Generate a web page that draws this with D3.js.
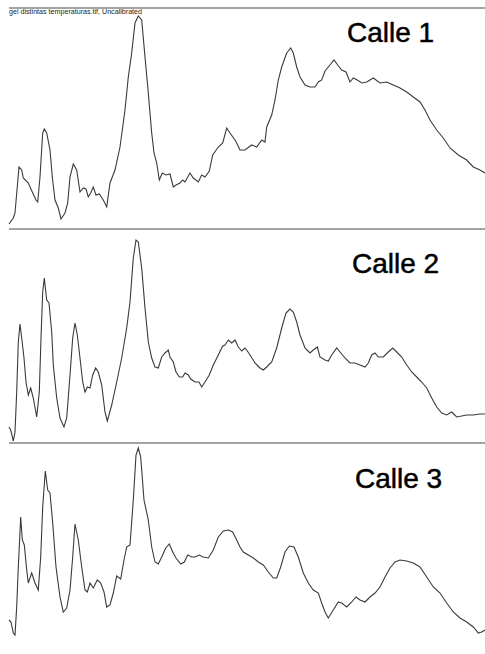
<!DOCTYPE html>
<html>
<head>
<meta charset="utf-8">
<script src="https://d3js.org/d3.v7.min.js"></script>
<style>
    body { margin: 0; background: #fff; }
    .sep { stroke: #858585; stroke-width: 1.5; }
    .trace { fill: none; stroke: #3a3a3a; stroke-width: 1.1; }
    .lane { font-family: Arial, "Liberation Sans", sans-serif; font-size: 28px; fill: #000; stroke: #000; stroke-width: 0.5; }
    .hdr { font-family: Arial, "Liberation Sans", sans-serif; font-size: 7px; fill: #222; }
</style>
</head>
<body>
<svg id="chart" width="485" height="654"></svg>
<script>
// lane labels and header
const laneNames = ["Calle 1", "Calle 2", "Calle 3"];
const header = "gel distintas temperaturas.tif, Uncalibrated";

// profile position (px along the lane) and intensity (uncalibrated)
const lane1Pos = [9,13.3,15,19,21.7,23.3,28.3,32.3,36,37.7,40,42.7,44.3,46.7,50,52.3,55,58.3,61,65,67.7,70,73.3,76.7,80,83.3,86,88.3,90.7,93.3,96,99.3,103.3,106.7,110,115,120,125,128.3,131.7,135,138.3,141.7,145,148.3,151.7,154,156.7,159.3,162.3,165.7,170,173.3,176,180,182.7,185,190,193.3,198.3,201.7,205,209.3,212.7,218.3,222.7,226.7,230,235,236.7,240,245,251.7,256.7,261.7,265,266.7,271.7,275,278.3,281.7,286.7,290.7,293.3,296.7,300,305,310,315,318.3,321.7,325,330,334,337.7,341.7,346,350,353.3,357.3,361.7,366.7,373.3,380,386.7,393.3,400,406.7,413.3,420,425,430,436.7,443.3,450,458.3,466.7,473.3,480,485];
const lane1Val = [5,11,16,62,59,51,46,37,29,27,52,96,100,96,79,52,29,21,10,16,26,52,65,59,37,41,40,32,36,42,34,35,29,22,46,59,82,119,152,176,206,213,209,172,136,96,76,66,49,56,54,55,42,44,46,49,47,56,51,47,54,52,58,74,82,86,101,96,89,86,79,79,84,82,89,87,102,114,129,149,162,176,181,176,162,152,144,142,142,147,149,158,164,169,164,159,157,147,151,149,146,147,151,146,147,144,141,137,132,127,119,109,99,91,81,74,69,62,59,56];

const lane2Pos = [9,10.7,13.3,15,16.7,18.3,20,21.7,24,26,28.3,30.7,33.3,36.7,39.3,41,42.7,44.3,46.7,49,51.7,53.3,56.7,60,64,66.7,70,72.7,75,77.3,80,82.7,85,87.3,90,92.7,95.7,98.3,101.7,105,107.3,111.7,116.7,121.7,126.7,130,133.3,136,138.3,141.7,145,148.3,151.7,155,158.3,161.7,165,168.3,170,173.3,176,179.3,182.7,185,188.3,190.7,195,199,201.7,205,209.3,213.3,218.3,222.7,225,228.3,231.7,235,238.3,241.7,245,246.7,250,255,260,263.3,266.7,271.7,276.7,281.7,286,290,293.3,296.7,300,305,310,313.3,317.3,320,325,328.3,331.7,336.7,340,345,350,355,360,365,368.3,371.7,375,378.3,383.3,388.3,392.7,396.7,401.7,406.7,411.7,416.7,421.7,426.7,431.7,436.7,441.7,446.7,451.7,456.7,461.7,466.7,473.3,480,485];
const lane2Val = [16,13,2,11,51,101,119,105,85,61,48,55,45,26,51,105,151,165,143,140,111,78,45,25,16,25,68,105,120,108,85,61,51,56,55,68,75,71,58,31,22,38,61,85,115,141,185,203,201,175,135,101,85,76,75,86,90,93,86,81,71,66,66,70,68,64,61,61,56,61,68,78,88,97,98,103,100,103,96,92,95,93,88,80,75,73,76,81,95,115,130,134,131,121,108,95,90,93,96,86,83,82,88,95,91,85,80,80,78,76,80,88,90,86,86,91,95,91,86,78,71,66,61,55,45,36,30,28,31,26,27,28,28,29,29];

const lane3Pos = [9,11,13.3,15,16.7,18.3,20.7,22.3,24.3,26.7,28.3,31.7,35,38.3,40.7,42.7,45.3,47.7,50,52.7,56,60,63.3,66.7,70,72.7,75,78.3,81.7,85,87.3,90,93.3,97.3,100.7,104,106.7,110,113.3,116.7,120.7,124,126.7,130,133.3,136,138.3,140.7,144,148.3,151.7,155,158.3,161.7,165.7,169.3,172.7,176,180.7,184.3,187.7,191.7,195,199.3,203.3,208.3,213.3,218.3,223.3,228.3,232.7,236.7,240,243.3,248.3,253.3,258.3,263.3,268.3,273.3,276.7,280.7,285,289.3,294,298.3,303.3,308.3,313.3,318.3,321.7,325,328.3,333.3,338.3,341.7,346.7,351.7,356,360,365,370,375,380,385,390,395,400,406.7,413.3,420,426.7,433.3,440,446.7,453.3,460,466.7,473.3,478.3,481.7,485];
const lane3Val = [37,35,24,22,50,90,140,117,112,87,74,84,74,67,100,150,186,167,164,134,90,60,45,49,67,100,133,117,90,67,65,74,69,77,74,65,50,52,64,81,78,97,110,112,157,202,209,200,157,137,110,95,93,100,109,113,105,99,93,95,102,100,100,102,100,99,107,120,126,127,125,117,110,105,102,99,95,92,85,79,79,90,105,111,110,100,84,74,67,64,54,45,39,47,55,54,50,55,60,57,55,60,64,70,80,89,95,97,96,94,90,80,70,64,54,45,39,35,30,24,25,27];

const lanes = [
    { name: laneNames[0], pos: lane1Pos, val: lane1Val, top: 8,   bottom: 229, lx: 347, ly: 42 },
    { name: laneNames[1], pos: lane2Pos, val: lane2Val, top: 229, bottom: 443, lx: 352, ly: 273 },
    { name: laneNames[2], pos: lane3Pos, val: lane3Val, top: 443, bottom: 657, lx: 355, ly: 488 }
];

var svg = d3.select("#chart");

var x = d3.scaleLinear().domain([9, 485]).range([9, 485]);

// separator lines
[8, 229, 443].forEach(function (yy) {
    svg.append("line").attr("class", "sep")
        .attr("x1", 9).attr("x2", 485)
        .attr("y1", yy).attr("y2", yy);
});

svg.append("text").attr("class", "hdr")
    .attr("x", 9).attr("y", 14)
    .attr("textLength", 133).attr("lengthAdjust", "spacingAndGlyphs")
    .text(header);

lanes.forEach(function (ln) {
    var h = ln.bottom - ln.top;
    var y = d3.scaleLinear().domain([0, h]).range([ln.bottom, ln.top]);
    var pts = ln.pos.map(function (p, i) { return [p, ln.val[i]]; });
    var line = d3.line()
        .x(function (d) { return x(d[0]); })
        .y(function (d) { return y(d[1]); });
    svg.append("path").attr("class", "trace").attr("d", line(pts));

    svg.append("text").attr("class", "lane")
        .attr("x", ln.lx).attr("y", ln.ly)
        .text(ln.name);
});
</script>
</body>
</html>
